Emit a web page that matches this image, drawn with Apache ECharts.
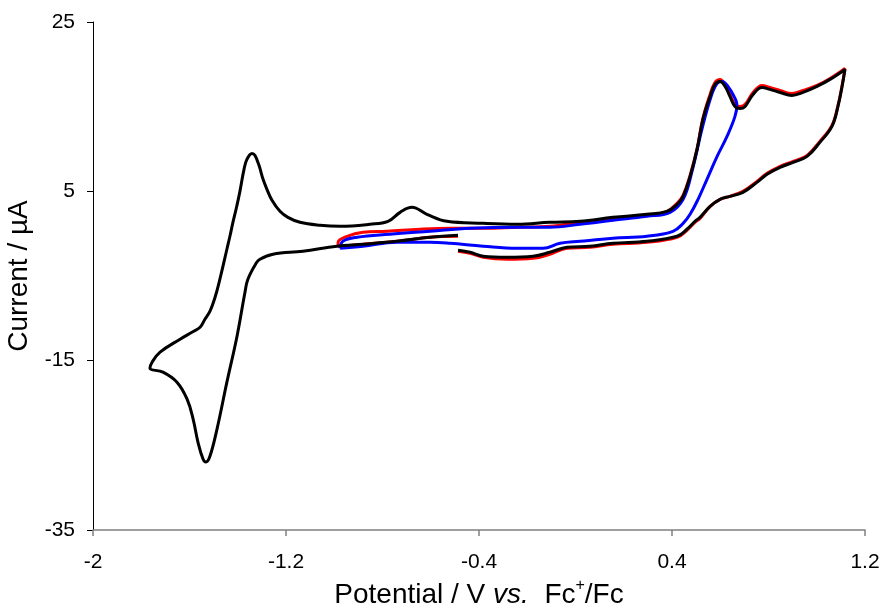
<!DOCTYPE html>
<html>
<head>
<meta charset="utf-8">
<title>CV</title>
<script src="https://cdn.jsdelivr.net/npm/echarts@6/dist/echarts.min.js"></script>
<style>
  html, body { margin: 0; padding: 0; background: #fff; }
  #chart { width: 884px; height: 608px; }
</style>
</head>
<body>
<div id="chart"></div>
<script>
// tick labels
var xTicks = [-2, -1.2, -0.4, 0.4, 1.2];
var yTicks = [-35, -15, 5, 25];

// [potential V, current uA]
var scanBlack = [
  [-0.487, -1.96], [-0.437, -2.20], [-0.383, -2.67], [-0.284, -2.79], [-0.176, -2.67],
  [-0.106, -2.20], [-0.035, -1.61], [0.060, -1.49], [0.155, -1.14], [0.296, -0.90],
  [0.421, -0.31], [0.462, 0.52], [0.495, 1.46], [0.516, 1.93], [0.558, 3.23],
  [0.599, 4.06], [0.640, 4.41], [0.694, 4.88], [0.752, 6.06], [0.794, 7.01],
  [0.848, 7.83], [0.902, 8.42], [0.960, 9.13], [1.013, 10.78], [1.063, 12.67],
  [1.088, 15.03], [1.105, 17.39], [1.117, 19.40],
  [1.055, 18.22], [1.001, 17.39], [0.943, 16.68], [0.897, 16.33], [0.848, 16.68],
  [0.806, 17.04], [0.773, 17.27], [0.736, 16.45], [0.703, 15.03], [0.682, 14.79],
  [0.661, 15.03], [0.640, 16.21], [0.620, 17.39], [0.599, 17.98], [0.578, 17.63],
  [0.558, 16.21], [0.528, 13.50], [0.504, 9.96], [0.475, 6.77], [0.446, 4.41],
  [0.421, 3.47], [0.379, 2.64], [0.296, 2.29], [0.155, 1.93], [0.019, 1.46],
  [-0.106, 1.34], [-0.242, 1.11], [-0.383, 1.22], [-0.533, 1.46], [-0.616, 2.29],
  [-0.678, 3.11], [-0.727, 2.52], [-0.777, 1.46], [-0.852, 1.11], [-0.976, 0.87],
  [-1.059, 0.99], [-1.142, 1.34], [-1.192, 1.93], [-1.225, 2.64], [-1.258, 3.94],
  [-1.279, 5.24], [-1.295, 6.42], [-1.312, 8.07], [-1.329, 9.25], [-1.341, 9.48],
  [-1.362, 8.78], [-1.374, 7.60], [-1.391, 5.00], [-1.407, 2.88], [-1.420, 1.34],
  [-1.432, -0.25], [-1.445, -1.84], [-1.474, -5.38], [-1.494, -7.51], [-1.515, -9.16],
  [-1.536, -10.10], [-1.556, -11.05], [-1.590, -11.64], [-1.639, -12.46],
  [-1.722, -14.00], [-1.755, -15.18], [-1.764, -15.89],
  [-1.710, -16.36], [-1.652, -17.54], [-1.610, -19.54], [-1.585, -21.90], [-1.565, -24.62],
  [-1.544, -26.62], [-1.532, -26.98], [-1.515, -26.27], [-1.486, -23.08], [-1.445, -17.54],
  [-1.403, -12.11], [-1.370, -6.92], [-1.358, -5.38], [-1.324, -3.50], [-1.308, -3.02],
  [-1.254, -2.43], [-1.130, -2.08], [-0.989, -1.49], [-0.881, -1.25], [-0.740, -0.90],
  [-0.603, -0.43], [-0.487, -0.19]
];

var scanRed = [
  [-0.487, -2.08], [-0.437, -2.32], [-0.383, -2.79], [-0.284, -3.02], [-0.176, -2.91],
  [-0.106, -2.43], [-0.035, -1.73], [0.060, -1.61], [0.155, -1.25], [0.296, -1.02],
  [0.421, -0.43], [0.462, 0.40], [0.495, 1.34], [0.516, 1.81], [0.558, 3.23],
  [0.599, 4.06], [0.640, 4.41], [0.694, 5.00], [0.752, 6.18], [0.794, 7.12],
  [0.848, 7.95], [0.902, 8.54], [0.960, 9.25], [1.013, 10.90], [1.063, 12.79],
  [1.088, 15.15], [1.105, 17.51], [1.117, 19.51],
  [1.055, 18.33], [1.001, 17.51], [0.943, 16.92], [0.897, 16.56], [0.848, 16.92],
  [0.806, 17.27], [0.773, 17.51], [0.736, 16.68], [0.703, 15.27], [0.682, 15.03],
  [0.661, 15.27], [0.640, 16.45], [0.620, 17.63], [0.599, 18.22], [0.578, 17.86],
  [0.558, 16.45], [0.528, 13.61], [0.504, 10.07], [0.475, 6.89], [0.446, 4.53],
  [0.421, 3.58], [0.379, 2.64], [0.296, 2.17], [0.155, 1.81], [0.019, 1.34],
  [-0.106, 0.87], [-0.242, 0.75], [-0.383, 0.63], [-0.520, 0.63], [-0.645, 0.52],
  [-0.781, 0.28], [-0.881, 0.16], [-0.947, -0.31], [-0.984, -1.02], [-0.984, -1.49],
  [-0.881, -1.25], [-0.740, -0.90], [-0.603, -0.43], [-0.487, -0.31]
];

var scanBlue = [
  [-0.976, -1.73], [-0.964, -0.90], [-0.906, -0.43], [-0.769, -0.07], [-0.603, 0.28],
  [-0.437, 0.63], [-0.242, 0.75], [-0.106, 0.75], [0.019, 1.11], [0.155, 1.58],
  [0.296, 2.05], [0.392, 2.52], [0.446, 4.06], [0.483, 7.36], [0.524, 12.32],
  [0.562, 16.21], [0.587, 17.74], [0.607, 17.98], [0.632, 17.39], [0.657, 16.21],
  [0.669, 15.27],
  [0.661, 13.85], [0.628, 11.49], [0.587, 9.13], [0.545, 6.42], [0.508, 4.06],
  [0.475, 2.29], [0.446, 1.22], [0.404, 0.28], [0.296, -0.31], [0.155, -0.55],
  [0.019, -0.90], [-0.064, -1.14], [-0.135, -1.73], [-0.242, -1.73], [-0.383, -1.49],
  [-0.520, -1.14], [-0.603, -1.02], [-0.740, -1.02], [-0.881, -1.49], [-0.976, -1.73]
];

var chart = echarts.init(document.getElementById('chart'));

var font = 'Arial, "Liberation Sans", sans-serif';

function scan(data, color, z) {
  return {
    type: 'line',
    data: data,
    showSymbol: false,
    smooth: 0.4,
    z: z,
    lineStyle: { color: color, width: 3 },
    emphasis: { disabled: true }
  };
}

var option = {
  animation: false,
  backgroundColor: '#ffffff',
  grid: {
    left: 93,
    right: 19,
    top: 22,
    bottom: 78,
    outerBoundsMode: 'none'
  },
  xAxis: {
    type: 'value',
    min: -2,
    max: 1.2,
    name: '{n|Potential / V }{i|vs.}{n|  Fc}{s|+}{n|/Fc}',
    nameLocation: 'middle',
    nameGap: 47,
    nameTextStyle: {
      rich: {
        n: { fontSize: 28, lineHeight: 34, fontFamily: font, color: '#000' },
        i: { fontSize: 28, lineHeight: 34, fontFamily: font, fontStyle: 'italic', color: '#000' },
        s: { fontSize: 16, lineHeight: 16, fontFamily: font, color: '#000', verticalAlign: 'top' }
      }
    },
    splitLine: { show: false },
    axisLine: { onZero: false, lineStyle: { color: '#808080', width: 1.5 } },
    axisTick: { show: true, length: 6, customValues: xTicks, lineStyle: { color: '#808080', width: 1.5 } },
    axisLabel: {
      customValues: xTicks,
      margin: 22,
      fontSize: 21,
      fontFamily: font,
      color: '#000'
    }
  },
  yAxis: {
    type: 'value',
    min: -35,
    max: 25,
    name: 'Current / µA',
    nameLocation: 'middle',
    nameGap: 52,
    nameTextStyle: { fontSize: 28, fontFamily: font, color: '#000' },
    splitLine: { show: false },
    axisLine: { show: true, onZero: false, lineStyle: { color: '#000', width: 1 } },
    axisTick: { show: true, length: 6, customValues: yTicks, lineStyle: { color: '#000', width: 1 } },
    axisLabel: {
      customValues: yTicks,
      margin: 18,
      fontSize: 21,
      fontFamily: font,
      color: '#000'
    }
  },
  series: [
    scan(scanRed, '#ff0000', 2),
    scan(scanBlue, '#0000ff', 3),
    scan(scanBlack, '#000000', 4)
  ]
};

chart.setOption(option);
</script>
</body>
</html>
